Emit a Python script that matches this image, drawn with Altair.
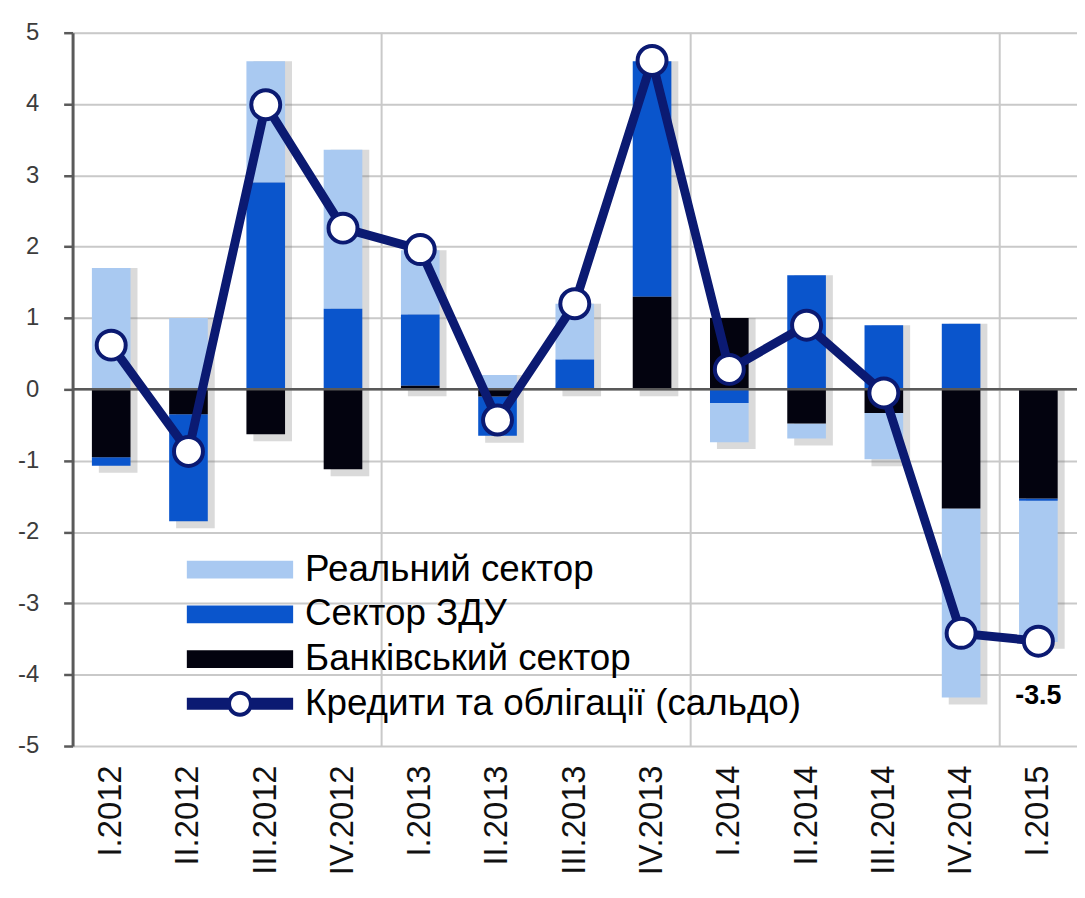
import altair as alt
import pandas as pd

categories = ["I.2012", "II.2012", "III.2012", "IV.2012",
              "I.2013", "II.2013", "III.2013", "IV.2013",
              "I.2014", "II.2014", "III.2014", "IV.2014", "I.2015"]
real_sector = [1.70, 1.00, 1.70, 2.23, 0.90, 0.20, 0.78, 0.00, -0.55, -0.21, -0.65, -2.65, -1.98]
zdu_sector = [-0.12, -1.50, 2.90, 1.13, 1.00, -0.55, 0.42, 3.30, -0.19, 1.60, 0.90, 0.92, -0.03]
bank_sector = [-0.95, -0.35, -0.63, -1.12, 0.05, -0.10, 0.00, 1.30, 1.00, -0.48, -0.33, -1.67, -1.53]
saldo = [0.62, -0.87, 3.99, 2.26, 1.96, -0.43, 1.20, 4.61, 0.28, 0.90, -0.05, -3.42, -3.53]
saldo_labels = ["", "", "", "", "", "", "", "", "", "", "", "", "-3.5"]

series_names = ["Реальний сектор", "Сектор ЗДУ", "Банківський сектор",
                "Кредити та облігації (сальдо)"]
series_colors = ["#A9C9F1", "#0A55CC", "#03030F", "#0B1A72"]
stack_rank = [2, 1, 0]
year_starts = ["I.2013", "I.2014", "I.2015"]
y_ticks = [-5, -4, -3, -2, -1, 0, 1, 2, 3, 4, 5]

FONT = "Liberation Sans"
NAVY = "#0B1A72"

rows = []
for i, c in enumerate(categories):
    for name, vals, rk in zip(series_names[:3], (real_sector, zdu_sector, bank_sector), stack_rank):
        rows.append({"cat": c, "sector": name, "value": vals[i], "ord": rk})
bars_df = pd.DataFrame(rows)

pos_tot = [sum(v for v in (a, b, c) if v > 0) for a, b, c in zip(real_sector, zdu_sector, bank_sector)]
neg_tot = [sum(v for v in (a, b, c) if v < 0) for a, b, c in zip(real_sector, zdu_sector, bank_sector)]
shadow_df = pd.DataFrame({"cat": categories, "pos": pos_tot, "neg": neg_tot})
line_df = pd.DataFrame({"cat": categories, "saldo": saldo, "label": saldo_labels})
years_df = pd.DataFrame({"cat": year_starts})
zero_df = pd.DataFrame({"z": [0]})

x_axis = alt.Axis(labelAngle=-90, labelFontSize=33, labelFont=FONT, labelColor="#111111",
                  labelPadding=19, ticks=False, domain=False, grid=False, title=None)
x_scale = alt.Scale(domain=categories, paddingInner=0.5, paddingOuter=0.25)
y_axis = alt.Axis(values=y_ticks, grid=True, gridColor="#c9c9c9", gridWidth=2,
                  domainColor="#5a5a5a", domainWidth=3, tickColor="#5a5a5a", tickWidth=2.5,
                  tickSize=9, labelFontSize=24, labelFont=FONT, labelColor="#3c3c3c",
                  labelPadding=25, labelExpr="'' + datum.value", title=None)
y_scale = alt.Scale(domain=[-5, 5], nice=False, zero=False)


def X():
    return alt.X("cat:N", scale=x_scale, axis=x_axis, sort=categories)


line_entry = series_names[3]
line_path = ("M-5.35,-0.6H-1.15V0.6H-5.35Z M1.15,-0.6H5.35V0.6H1.15Z "
             "M1.3,0A1.3,1.3 0 1 1 -1.3,0A1.3,1.3 0 1 1 1.3,0Z "
             "M0.9,0A0.9,0.9 0 1 0 -0.9,0A0.9,0.9 0 1 0 0.9,0Z")
rect_path = "M-5.35,-0.9H5.35V0.9H-5.35Z"
symbol_expr = "datum.value === '" + line_entry + "' ? '" + line_path + "' : '" + rect_path + "'"

legend = alt.Legend(title=None, orient="none", legendX=110, legendY=522, direction="vertical",
                    symbolType=alt.ExprRef(expr=symbol_expr), symbolSize=400,
                    symbolStrokeWidth=0, symbolOffset=40, labelOffset=47,
                    labelFontSize=37, labelFont=FONT, labelColor="#000000", labelLimit=1000,
                    rowPadding=7, padding=0, symbolOpacity=1)

year_rules = alt.Chart(years_df).mark_rule(color="#c9c9c9", strokeWidth=2, xOffset=-38.9).encode(
    x=X()
)

shadow = alt.Chart(shadow_df).mark_bar(color="#7a7a7a", opacity=0.28, xOffset=7, yOffset=7).encode(
    x=X(),
    y=alt.Y("neg:Q", scale=y_scale, axis=y_axis),
    y2="pos:Q",
)

bars = alt.Chart(bars_df).mark_bar().encode(
    x=X(),
    y=alt.Y("value:Q", stack="zero", scale=y_scale, axis=y_axis),
    color=alt.Color("sector:N", scale=alt.Scale(domain=series_names, range=series_colors),
                    legend=legend),
    order=alt.Order("ord:Q"),
)

zero_rule = alt.Chart(zero_df).mark_rule(color="#595959", strokeWidth=2.5).encode(
    y=alt.Y("z:Q", scale=y_scale, axis=y_axis)
)

line = alt.Chart(line_df).mark_line(color=NAVY, strokeWidth=9).encode(
    x=X(),
    y=alt.Y("saldo:Q", scale=y_scale, axis=y_axis),
)

points = alt.Chart(line_df).mark_point(shape="circle", filled=True, fill="white", stroke=NAVY,
                                       strokeWidth=4, size=850, opacity=1).encode(
    x=X(),
    y=alt.Y("saldo:Q", scale=y_scale, axis=y_axis),
)

labels = alt.Chart(line_df).transform_filter("datum.label != ''").mark_text(
    font=FONT, fontSize=27, fontWeight="bold", color="#000000", align="center",
    baseline="top", dy=42
).encode(
    x=X(),
    y=alt.Y("saldo:Q", scale=y_scale, axis=y_axis),
    text="label:N",
)

chart = alt.layer(year_rules, shadow, bars, zero_rule, line, points, labels).properties(
    width=1011, height=718,
    padding={"left": 65, "top": 22, "right": 0, "bottom": 134},
    autosize=alt.AutoSizeParams(type="none"),
).configure_view(stroke=None).configure(font=FONT)

chart.save("out.html", embed_options={"renderer": "svg", "actions": False})
